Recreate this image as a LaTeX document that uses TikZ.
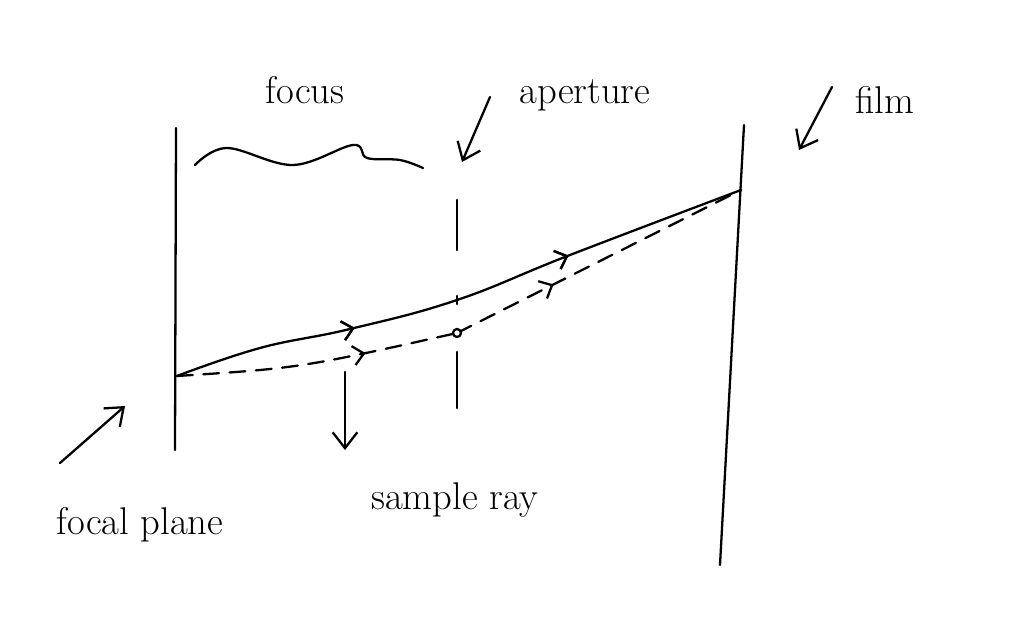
\documentclass[tikz,border=0pt]{standalone}
\usetikzlibrary{arrows.meta,decorations.markings}
\begin{document}
\begin{tikzpicture}[x=0.02cm,y=-0.02cm]
% Styles
\tikzstyle{trait}=[line width=1.3pt,line cap=round,line join=round]
\tikzstyle{fleche}=[trait,-{Straight Barb[length=9pt,width=14pt,line width=1.3pt]}]
\tikzstyle{tirets}=[trait,dash pattern=on 9pt off 6pt]
\tikzstyle{etiquette}=[font=\fontsize{22}{26}\selectfont,inner sep=0pt]
\tikzstyle{sens}=[decoration={markings,mark=at position #1 with {\arrow{Straight Barb[length=6pt,width=11pt,line width=1.3pt]}}},postaction=decorate]
\useasboundingbox (0,0) rectangle (1022,636);
% Plans
\coordinate (PFh) at (176,128);
\coordinate (PFb) at (175,450);
\coordinate (Fh) at (744,125);
\coordinate (Fb) at (720,565);
\coordinate (Oh) at (457,200);
\coordinate (Ohb) at (457,250);
\coordinate (Obh) at (457,352);
\coordinate (Ob) at (457,408);
\draw[trait] (PFh) -- (PFb);
\draw[trait] (Fh) -- (Fb);
\draw[trait] (Oh) -- (Ohb);
\draw[trait] (Obh) -- (Ob);
% Rayons
\coordinate (F) at (177,376);
\coordinate (I) at (741,190);
\coordinate (A) at (457,333);
\draw[trait,sens=0.31,sens=0.69] plot[smooth,tension=0.7] coordinates {(F) (260,348) (350,329) (457,300) (570,255) (I)};
\draw[tirets,sens=0.67] (F) .. controls (300,368) .. (A);
\draw[tirets,sens=0.34] (A) -- (I);
\draw[trait,fill=white] (A) circle (4);
\draw[trait] (457,296) -- (457,304);
% Accolade
\draw[trait] plot[smooth,tension=0.6] coordinates {(195,165) (227,148) (293,165) (353,145) (367,158) (400,160) (423,168)};
% Etiquettes
\node[etiquette] (focus) at (305,90) {focus};
\node[etiquette] (ouverture) at (585,95) {aperture};
\node[etiquette] (film) at (885,100) {film};
\node[etiquette] (plan) at (140,525) {focal plane};
\node[etiquette] (rayon) at (455,500) {sample ray};
% Fleches
\coordinate (oA) at (490,97);
\coordinate (oB) at (462,162);
\coordinate (fA) at (832,87);
\coordinate (fB) at (799,150);
\coordinate (pA) at (60,463);
\coordinate (pB) at (125,406);
\coordinate (rA) at (345,372);
\coordinate (rB) at (345,450);
\draw[fleche] (oA) -- (oB);
\draw[fleche] (fA) -- (fB);
\draw[fleche] (pA) -- (pB);
\draw[fleche] (rA) -- (rB);
\end{tikzpicture}
\end{document}
